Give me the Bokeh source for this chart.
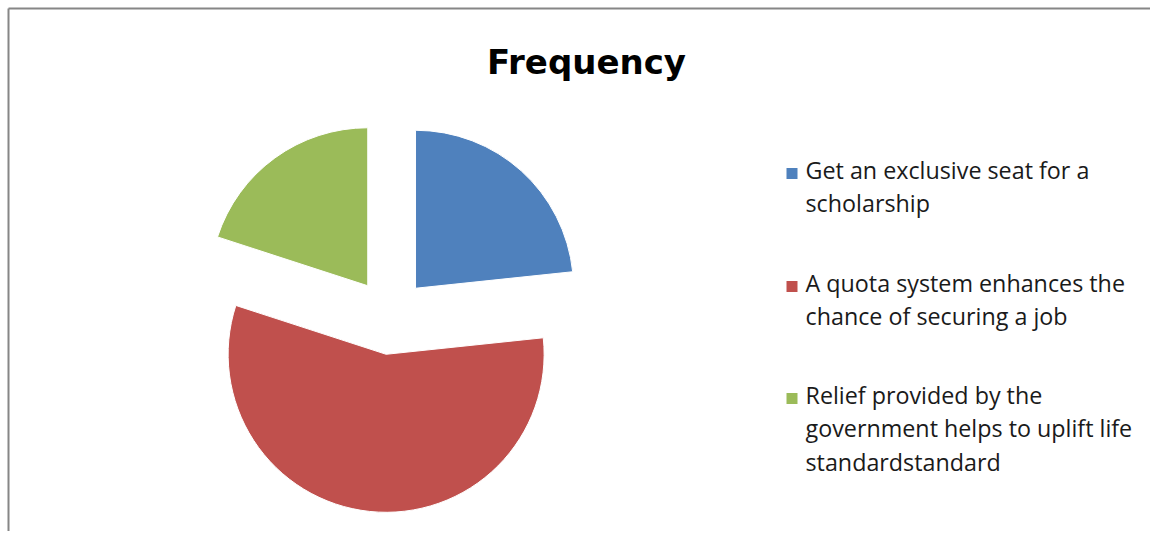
import math
from bokeh.plotting import figure
from bokeh.models import Range1d, ColumnDataSource
from bokeh.core.properties import value
from bokeh.embed import file_html
from bokeh.resources import INLINE

# ---- data ----
categories = [
    "Get an exclusive seat for a scholarship",
    "A quota system enhances the chance of securing a job",
    "Relief provided by the government helps to uplift life standardstandard",
]
legend_lines = [
    ["Get an exclusive seat for a", "scholarship"],
    ["A quota system enhances the", "chance of securing a job"],
    ["Relief provided by the", "government helps to uplift life", "standardstandard"],
]
frequency = [35, 85, 30]
colors = ["#4F81BD", "#C0504D", "#9BBB59"]
title_text = "Frequency"

# ---- layout ----
W, H = 1150, 531
FONT = "Open Sans"


def Y(py):
    return H - py


p = figure(width=W, height=H, output_backend="svg", toolbar_location=None,
           x_range=Range1d(0, W), y_range=Range1d(0, H), min_border=0,
           tools="")
p.xaxis.visible = False
p.yaxis.visible = False
p.grid.visible = False
p.outline_line_color = None
p.background_fill_color = "white"
p.border_fill_color = "white"

# chart border (top and left)
p.line(x=[8, W], y=[Y(8), Y(8)], line_color="#868686", line_width=2)
p.line(x=[8, 8], y=[0, Y(8)], line_color="#868686", line_width=2)

# ---- exploded pie ----
cx, cy = 389.6, Y(316)
R = 158
explode = 38
total = sum(frequency)
cum = 0.0
xs, ys, starts, ends = [], [], [], []
for v in frequency:
    a0 = math.pi / 2 - 2 * math.pi * cum / total
    cum += v
    a1 = math.pi / 2 - 2 * math.pi * cum / total
    mid = (a0 + a1) / 2
    xs.append(cx + explode * math.cos(mid))
    ys.append(cy + explode * math.sin(mid))
    starts.append(a1)
    ends.append(a0)

src = ColumnDataSource(dict(x=xs, y=ys, start=starts, end=ends, color=colors, cat=categories, freq=frequency))
p.wedge(x="x", y="y", radius=R, start_angle="start", end_angle="end",
        fill_color="color", line_color="white", line_width=1, source=src)

# ---- title ----
p.text(x=[586], y=[Y(61)], text=[title_text], text_font=value("DejaVu Sans"),
       text_font_style="bold", text_font_size="34px", text_align="center",
       text_baseline="alphabetic", text_color="#000000")

# ---- legend ----
group_base = [169, 282, 394]
step = 33.5
tx, ty, tt = [], [], []
sx, sy = [], []
for i, lines in enumerate(legend_lines):
    for j, line in enumerate(lines):
        tx.append(805)
        ty.append(Y(group_base[i] + j * step))
        tt.append(line)
    sx.append(791.5)
    sy.append(Y(group_base[i] + 4))

p.rect(x=sx, y=sy, width=11, height=11, fill_color=colors, line_color=None)
p.text(x=tx, y=ty, text=tt, text_font=value(FONT), text_font_size="23.3px",
       text_baseline="alphabetic", text_align="left", text_color="#1a1a1a")

open("out.html", "w").write(file_html(p, INLINE))
